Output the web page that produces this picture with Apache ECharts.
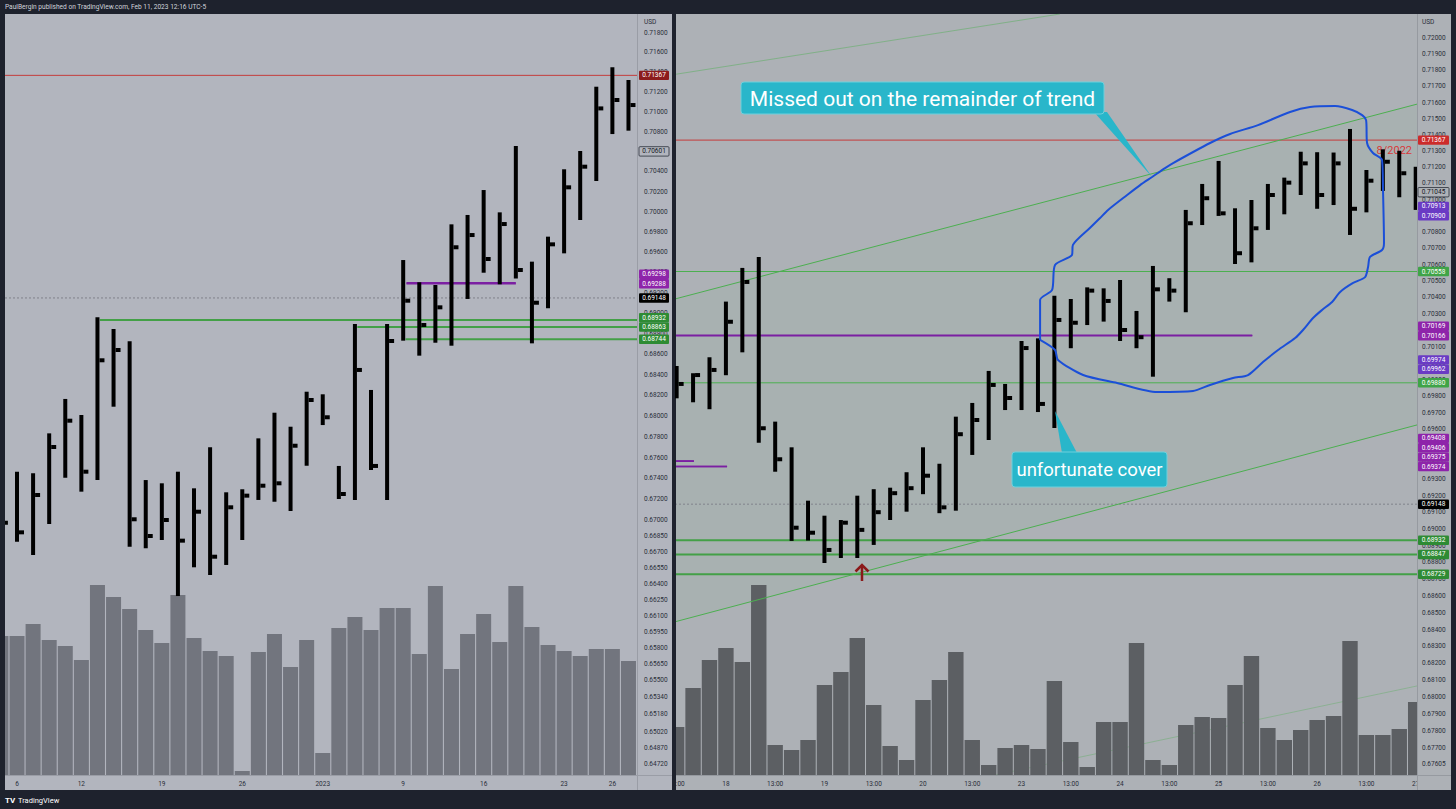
<!DOCTYPE html>
<html>
<head>
<meta charset="utf-8">
<script src="https://cdn.jsdelivr.net/npm/echarts@6/dist/echarts.min.js"></script>
<style>
  html, body { margin: 0; padding: 0; background: #1e222d; }
  #chart { width: 1456px; height: 809px; }
</style>
</head>
<body>
<div id="chart"></div>
<script>
// ---- left pane: daily bars, Dec 5 2022 .. Jan 27 2023 ----
const leftHigh = [0.67146, 0.67464, 0.67449, 0.67832, 0.68164, 0.68009, 0.68958, 0.68844, 0.68724, 0.67384,
  0.67353, 0.67464, 0.67305, 0.67698, 0.67267, 0.67296, 0.67784, 0.68031, 0.67896, 0.68234,
  0.68209, 0.67519, 0.68893, 0.68251, 0.68893, 0.69521, 0.69302, 0.69275, 0.69874, 0.69967,
  0.70215, 0.69993, 0.70655, 0.69505, 0.69752, 0.70422, 0.70605, 0.71252, 0.71449, 0.71320]
const leftLow = [0.66813, 0.66797, 0.66671, 0.66965, 0.67406, 0.67273, 0.67384, 0.68089, 0.66750, 0.66735,
  0.66813, 0.66284, 0.66555, 0.66482, 0.66577, 0.66813, 0.67194, 0.67177, 0.67089, 0.67521,
  0.67912, 0.67203, 0.67194, 0.67480, 0.67194, 0.68730, 0.68584, 0.68710, 0.68681, 0.69138,
  0.69396, 0.69282, 0.69339, 0.68704, 0.69047, 0.69587, 0.69917, 0.70305, 0.70775, 0.70809]
const leftClose = [0.66977, 0.66886, 0.67241, 0.67701, 0.67954, 0.67464, 0.68539, 0.68639, 0.67010, 0.66851,
  0.67003, 0.66807, 0.67082, 0.66655, 0.67124, 0.67235, 0.67330, 0.67353, 0.67713, 0.68154,
  0.67987, 0.67251, 0.68445, 0.67519, 0.68727, 0.69121, 0.68883, 0.69056, 0.69647, 0.69768,
  0.69531, 0.69877, 0.69423, 0.69101, 0.69676, 0.70242, 0.70448, 0.71033, 0.71118, 0.71067]
const leftVolume = [139, 139, 151, 135, 129, 115, 190, 178, 166, 145, 132, 180, 137, 124, 119, 4, 123, 141, 108, 135,
  22, 147, 158, 145, 167, 167, 121, 189, 106, 141, 161, 133, 189, 148, 130, 124, 119, 126, 126, 114]
const leftDayIndex = [1, 5, 10, 15, 20, 25, 30, 35, 38]
const leftDayLabels = ['6', '12', '19', '26', '2023', '9', '16', '23', '26']
const leftPriceTicks = [0.718, 0.716, 0.714, 0.712, 0.710, 0.708, 0.706, 0.704, 0.702, 0.700, 0.698, 0.696,
  0.694, 0.692, 0.690, 0.688, 0.686, 0.684, 0.682, 0.680, 0.678, 0.676, 0.674, 0.672, 0.670,
  0.6685, 0.6670, 0.6655, 0.6640, 0.6625, 0.6610, 0.6595, 0.6580, 0.6565, 0.6550,
  0.6534, 0.6518, 0.6502, 0.6487, 0.6472]

// levels drawn on the left pane
const leftRedLevel = 0.71367
const leftGrayLevel = 0.69148
const leftGreenLevels = [0.68932, 0.68863, 0.68744]
const leftGreenFrom = [6.15, 22.15, 25.15]
const leftPurpleLevels = [0.69298, 0.69288]
const leftPurpleSpan = [25.2, 32.0]

// ---- right pane: 4h bars, Jan 17 13:00 .. Jan 27 ----
const rightHigh = [0.69982, 0.69938, 0.70035, 0.70374, 0.70580, 0.70647, 0.69645, 0.69490, 0.69169, 0.69079,
  0.69053, 0.69199, 0.69238, 0.69247, 0.69340, 0.69490, 0.69391, 0.69675, 0.69758, 0.69952,
  0.69873, 0.70134, 0.70150, 0.70410, 0.70390, 0.70461, 0.70455, 0.70506, 0.70317, 0.70592,
  0.70517, 0.70936, 0.71096, 0.71238, 0.70946, 0.70997, 0.71096, 0.71135, 0.71295, 0.71292,
  0.71290, 0.71436, 0.71182, 0.71310, 0.71301, 0.71202]
const rightLow = [0.69786, 0.69762, 0.69720, 0.69926, 0.70065, 0.69518, 0.69343, 0.68928, 0.68930, 0.68796,
  0.68826, 0.68826, 0.68904, 0.69053, 0.69103, 0.69208, 0.69094, 0.69109, 0.69444, 0.69534,
  0.69715, 0.69715, 0.69703, 0.69607, 0.70090, 0.70231, 0.70252, 0.70134, 0.70090, 0.69917,
  0.70374, 0.70309, 0.70843, 0.70899, 0.70604, 0.70614, 0.70813, 0.70909, 0.71028, 0.70943,
  0.70966, 0.70782, 0.70921, 0.71053, 0.71014, 0.70936]
const rightClose = [0.69873, 0.69927, 0.69958, 0.70251, 0.70494, 0.69605, 0.69418, 0.69007, 0.68977, 0.68874,
  0.69037, 0.68994, 0.69100, 0.69214, 0.69244, 0.69319, 0.69129, 0.69569, 0.69655, 0.69867,
  0.69788, 0.70091, 0.69752, 0.70262, 0.70245, 0.70441, 0.70378, 0.70201, 0.70157, 0.70449,
  0.70441, 0.70854, 0.71008, 0.70915, 0.70670, 0.70823, 0.71028, 0.71104, 0.71223, 0.71028,
  0.71223, 0.70943, 0.71116, 0.71233, 0.71162, 0.71045]
const rightVolume = [48, 87, 115, 127, 113, 190, 30, 25, 35, 90, 103, 137, 70, 29, 15, 75, 95, 123, 35, 10,
  27, 30, 26, 94, 33, 8, 53, 53, 132, 15, 10, 50, 58, 57, 90, 119, 47, 35, 45, 55,
  59, 134, 40, 40, 46, 73]
const rightTimeIndex = [0, 3, 6, 9, 12, 15, 18, 21, 24, 27, 30, 33, 36, 39, 42, 45]
const rightTimeLabels = ['13:00', '18', '13:00', '19', '13:00', '20', '13:00', '23', '13:00', '24',
  '13:00', '25', '13:00', '26', '13:00', '27']
const rightPriceTicks = [0.720, 0.719, 0.718, 0.717, 0.716, 0.715, 0.714, 0.713, 0.712, 0.711, 0.710,
  0.709, 0.708, 0.707, 0.706, 0.705, 0.704, 0.703, 0.702, 0.701, 0.700, 0.699, 0.698, 0.697,
  0.696, 0.695, 0.694, 0.693, 0.692, 0.691, 0.690, 0.689, 0.688, 0.687, 0.686, 0.685, 0.684,
  0.683, 0.682, 0.681, 0.680, 0.679, 0.678, 0.677, 0.67605]

// levels and drawings on the right pane
const rightRedLevel = 0.71367
const rightGrayLevel = 0.69148
const rightGreenThin = [0.70558, 0.69880]
const rightGreenThick = [0.68932, 0.68847, 0.68729]
const rightPurpleLevels = [0.70169, 0.70166]
const rightPurpleEnd = 35.05
const rightShortPurple = [0.69408, 0.69406, 0.69375, 0.69374]
const rightShortPurpleEnd = [1.05, 1.05, 3.07, 3.07]
const channelUpper = [[-0.1, 0.70390], [45.08, 0.71590]]
const channelLower = [[-0.1, 0.68446], [45.08, 0.69625]]
const faintTop = [[-0.1, 0.71775], [23.34, 0.72152]]
const faintBottom = [[19.1, 0.67536], [45.08, 0.68066]]
const loopPath = [[22.13, 0.70140], [22.13, 0.70384], [22.86, 0.70445], [23.04, 0.70598], [24.07, 0.70659],
  [24.13, 0.70721], [25.16, 0.70825], [25.78, 0.70886], [26.27, 0.70936], [27.43, 0.71028],
  [28.22, 0.71089], [28.95, 0.71139], [29.74, 0.71194], [30.23, 0.71225], [32.48, 0.71349],
  [33.70, 0.71405], [35.40, 0.71460], [37.35, 0.71541], [38.57, 0.71572], [40.09, 0.71578],
  [41.13, 0.71554], [41.74, 0.71522], [41.98, 0.71491], [42.04, 0.71349], [42.40, 0.71287],
  [42.95, 0.71244], [43.01, 0.71059], [43.07, 0.70733], [42.95, 0.70690], [42.22, 0.70647],
  [42.10, 0.70586], [41.92, 0.70524], [41.19, 0.70488], [40.40, 0.70433], [39.91, 0.70372],
  [39.30, 0.70323], [38.75, 0.70274], [38.14, 0.70201], [37.66, 0.70152], [36.62, 0.70079],
  [35.70, 0.70006], [34.79, 0.69927], [33.88, 0.69909], [32.48, 0.69867], [31.44, 0.69830],
  [29.25, 0.69824], [26.82, 0.69879], [24.75, 0.69927], [23.22, 0.70019], [23.04, 0.70079],
  [22.13, 0.70140]]

// price tags on the axes
const leftTags = [
  { v: 0.71367, fill: '#8c1c1c', text: '#ffffff' },
  { v: 0.70601, fill: '#b2b5be', text: '#131722', stroke: '#2a2e39' },
  { v: 0.69298, fill: '#8e24aa', text: '#ffffff' },
  { v: 0.69288, fill: '#8e24aa', text: '#ffffff' },
  { v: 0.69148, fill: '#000000', text: '#ffffff' },
  { v: 0.68932, fill: '#2e8b34', text: '#ffffff' },
  { v: 0.68863, fill: '#2e8b34', text: '#ffffff' },
  { v: 0.68744, fill: '#2e8b34', text: '#ffffff' }
]
const rightTags = [
  { v: 0.71367, fill: '#cc2b2b', text: '#ffffff' },
  { v: 0.71045, fill: '#aeb2b7', text: '#131722', stroke: '#2a2e39' },
  { v: 0.70913, fill: '#6a3bc4', text: '#ffffff' },
  { v: 0.70900, fill: '#6a3bc4', text: '#ffffff' },
  { v: 0.70558, fill: '#3fa447', text: '#ffffff' },
  { v: 0.70169, fill: '#8e24aa', text: '#ffffff' },
  { v: 0.70166, fill: '#8e24aa', text: '#ffffff' },
  { v: 0.69974, fill: '#6a3bc4', text: '#ffffff' },
  { v: 0.69962, fill: '#6a3bc4', text: '#ffffff' },
  { v: 0.69880, fill: '#3fa447', text: '#ffffff' },
  { v: 0.69408, fill: '#8e24aa', text: '#ffffff' },
  { v: 0.69406, fill: '#8e24aa', text: '#ffffff' },
  { v: 0.69375, fill: '#8e24aa', text: '#ffffff' },
  { v: 0.69374, fill: '#8e24aa', text: '#ffffff' },
  { v: 0.69148, fill: '#000000', text: '#ffffff' },
  { v: 0.68932, fill: '#2e8b34', text: '#ffffff' },
  { v: 0.68847, fill: '#2e8b34', text: '#ffffff' },
  { v: 0.68729, fill: '#2e8b34', text: '#ffffff' }
]

const PANEL = '#b2b5be'
const PANEL_R = '#adb1b6'
const LABEL = '#2a2e39'
const FONT = 'Roboto'

const chart = echarts.init(document.getElementById('chart'), null, { renderer: 'svg' })

function ohlcSeries(xi, yi, high, low, close) {
  return {
    type: 'custom', xAxisIndex: xi, yAxisIndex: yi, z: 5, clip: true,
    data: high.map((h, i) => [i, h, low[i], close[i]]),
    renderItem(params, api) {
      const x = api.value(0)
      const hi = api.coord([x, api.value(1)])
      const lo = api.coord([x, api.value(2)])
      const cl = api.coord([x, api.value(3)])
      return {
        type: 'group',
        children: [
          { type: 'rect', shape: { x: hi[0] - 2, y: hi[1], width: 4, height: lo[1] - hi[1] }, style: { fill: '#000' } },
          { type: 'rect', shape: { x: hi[0] + 2, y: cl[1] - 2, width: 5, height: 4 }, style: { fill: '#000' } }
        ]
      }
    }
  }
}

function volumeSeries(xi, yi, vols, width, color) {
  return {
    type: 'custom', xAxisIndex: xi, yAxisIndex: yi, z: 2, clip: true,
    data: vols.map((v, i) => [i, v]),
    renderItem(params, api) {
      const top = api.coord([api.value(0), api.value(1)])
      const base = api.coord([api.value(0), 0])
      return { type: 'rect', shape: { x: top[0] - width / 2, y: top[1], width: width, height: base[1] - top[1] }, style: { fill: color } }
    }
  }
}

function levelLine(xi, yi, price, x1, x2, color, width, dashed) {
  return {
    type: 'line', xAxisIndex: xi, yAxisIndex: yi, z: 3, silent: true, symbol: 'none',
    data: [[x1, price], [x2, price]],
    lineStyle: { color: color, width: width, type: dashed ? [2, 2] : 'solid' }
  }
}

function pathLine(xi, yi, points, color, width, z) {
  return {
    type: 'line', xAxisIndex: xi, yAxisIndex: yi, z: z || 3, silent: true, symbol: 'none',
    data: points, lineStyle: { color: color, width: width }
  }
}

const leftDayMap = {}
leftDayIndex.forEach((k, i) => { leftDayMap[k] = leftDayLabels[i] })
const rightTimeMap = {}
rightTimeIndex.forEach((k, i) => { rightTimeMap[k] = rightTimeLabels[i] })

const LX = [0.254, 39.53]
const RX = [-0.1, 45.08]

const series = [
  volumeSeries(0, 1, leftVolume, 15, '#72757e'),
  volumeSeries(1, 3, rightVolume, 15.4, '#5c5f63'),
  {
    type: 'custom', xAxisIndex: 1, yAxisIndex: 2, z: 1, clip: true, silent: true,
    data: [[0, 0]],
    renderItem(params, api) {
      const pts = [channelUpper[0], channelUpper[1], channelLower[1], channelLower[0]].map(p => api.coord(p))
      return { type: 'polygon', shape: { points: pts }, style: { fill: 'rgba(76,175,80,0.045)' } }
    }
  },
  levelLine(0, 0, leftRedLevel, LX[0], LX[1], '#c43c3c', 1),
  levelLine(0, 0, leftGrayLevel, LX[0], LX[1], '#80838c', 1, true),
  ...leftGreenLevels.map((p, i) => levelLine(0, 0, p, leftGreenFrom[i], LX[1], '#43a047', 2)),
  ...leftPurpleLevels.map(p => levelLine(0, 0, p, leftPurpleSpan[0], leftPurpleSpan[1], '#7b1fa2', 1.5)),
  levelLine(1, 2, rightRedLevel, RX[0], RX[1], '#c43c3c', 1),
  levelLine(1, 2, rightGrayLevel, RX[0], RX[1], '#80838c', 1, true),
  ...rightGreenThin.map(p => levelLine(1, 2, p, RX[0], RX[1], '#4caf50', 1)),
  ...rightGreenThick.map(p => levelLine(1, 2, p, RX[0], RX[1], '#43a047', 2)),
  ...rightPurpleLevels.map(p => levelLine(1, 2, p, RX[0], rightPurpleEnd, '#7b1fa2', 1.5)),
  ...rightShortPurple.map((p, i) => levelLine(1, 2, p, RX[0], rightShortPurpleEnd[i], '#7b1fa2', 1.5)),
  pathLine(1, 2, channelUpper, '#4caf50', 1),
  pathLine(1, 2, channelLower, '#4caf50', 1),
  pathLine(1, 2, faintTop, 'rgba(76,175,80,0.45)', 1),
  pathLine(1, 2, faintBottom, 'rgba(76,175,80,0.35)', 1, 1),
  Object.assign(pathLine(1, 2, loopPath, '#1b4fd8', 2, 6), { smooth: 0.25 }),
  ohlcSeries(0, 0, leftHigh, leftLow, leftClose),
  ohlcSeries(1, 2, rightHigh, rightLow, rightClose)
]

function priceAxis(grid, min, max, ticks, margin) {
  return {
    type: 'log', gridIndex: grid, position: 'right', min: min, max: max, z: 5,
    axisLine: { show: false }, axisTick: { show: false }, splitLine: { show: false },
    axisLabel: {
      customValues: ticks, formatter: v => Number(v).toFixed(5),
      color: LABEL, fontSize: 6.5, fontFamily: FONT, margin: margin
    }
  }
}

function timeAxis(grid, range, values, map) {
  return {
    type: 'value', gridIndex: grid, min: range[0], max: range[1], z: 1,
    axisLine: { show: false }, axisTick: { show: false }, splitLine: { show: false },
    axisLabel: {
      customValues: values, formatter: v => map[Math.round(v)] || '',
      color: LABEL, fontSize: 6.5, fontFamily: FONT, margin: 5
    }
  }
}

chart.setOption({
  animation: false,
  backgroundColor: '#1e222d',
  textStyle: { fontFamily: FONT },
  grid: [
    { left: 5, top: 14, width: 632, height: 761 },
    { left: 675, top: 14, width: 742, height: 761 }
  ],
  xAxis: [timeAxis(0, LX, leftDayIndex, leftDayMap), timeAxis(1, RX, rightTimeIndex, rightTimeMap)],
  yAxis: [
    priceAxis(0, 0.64622, 0.71991, leftPriceTicks, 7),
    { type: 'value', gridIndex: 0, min: 0, max: 761, show: false },
    priceAxis(1, 0.675423, 0.72152, rightPriceTicks, 5),
    { type: 'value', gridIndex: 1, min: 0, max: 761, show: false }
  ],
  series: series
})

// ---- tags and static drawing ----
function tagGraphics(tags, yAxisIndex, x0, width) {
  const h = 9.4
  const items = tags.map(t => Object.assign({}, t, { y: chart.convertToPixel({ yAxisIndex: yAxisIndex }, t.v) }))
  items.sort((a, b) => b.y - a.y)
  for (let i = 1; i < items.length; i++) items[i].y = Math.min(items[i].y, items[i - 1].y - h)
  const out = []
  items.forEach(t => {
    out.push({ type: 'rect', z: 8, shape: { x: x0, y: t.y - h / 2, width: width, height: h, r: 1 },
      style: { fill: t.fill, stroke: t.stroke || null, lineWidth: t.stroke ? 0.8 : 0 } })
    out.push({ type: 'text', z: 9, style: { text: t.v.toFixed(5), x: x0 + width / 2, y: t.y, align: 'center',
      verticalAlign: 'middle', fill: t.text, font: '6.5px ' + FONT } })
  })
  return out
}

const graphics = [
  // panel backgrounds
  { type: 'rect', z: -10, shape: { x: 5, y: 14, width: 667, height: 776 }, style: { fill: PANEL } },
  { type: 'rect', z: -10, shape: { x: 676, y: 14, width: 775, height: 776 }, style: { fill: PANEL_R } },
  // axis columns, drawn over overflowing labels
  { type: 'rect', z: 4, shape: { x: 637, y: 14, width: 35, height: 776 }, style: { fill: PANEL } },
  { type: 'rect', z: 4, shape: { x: 1417, y: 14, width: 34, height: 776 }, style: { fill: PANEL_R } },
  { type: 'rect', z: 4, shape: { x: 672, y: 14, width: 4, height: 776 }, style: { fill: '#1e222d' } },
  { type: 'rect', z: 4, shape: { x: 0, y: 14, width: 5, height: 776 }, style: { fill: '#1e222d' } },
  // separators
  { type: 'line', z: 4, shape: { x1: 637.5, y1: 14, x2: 637.5, y2: 790 }, style: { stroke: '#9a9da6', lineWidth: 1 } },
  { type: 'line', z: 4, shape: { x1: 1417.5, y1: 14, x2: 1417.5, y2: 790 }, style: { stroke: '#969aa0', lineWidth: 1 } },
  { type: 'line', z: 4, shape: { x1: 5, y1: 775.5, x2: 672, y2: 775.5 }, style: { stroke: '#9a9da6', lineWidth: 1 } },
  { type: 'line', z: 4, shape: { x1: 676, y1: 775.5, x2: 1451, y2: 775.5 }, style: { stroke: '#969aa0', lineWidth: 1 } },
  // currency captions
  { type: 'text', z: 6, style: { text: 'USD', x: 644, y: 21.5, verticalAlign: 'middle', fill: LABEL, font: '6.5px ' + FONT } },
  { type: 'text', z: 6, style: { text: 'USD', x: 1422, y: 21.5, verticalAlign: 'middle', fill: LABEL, font: '6.5px ' + FONT } },
  // header / footer
  { type: 'text', z: 6, style: { text: 'PaulBergin published on TradingView.com, Feb 11, 2023 12:16 UTC-5', x: 5, y: 7,
    verticalAlign: 'middle', fill: '#d1d4dc', font: '6.6px ' + FONT } },
  { type: 'text', z: 6, style: { text: 'TV', x: 5, y: 800, verticalAlign: 'middle', fill: '#ffffff', font: 'bold 8px ' + FONT } },
  { type: 'text', z: 6, style: { text: 'TradingView', x: 18, y: 800, verticalAlign: 'middle', fill: '#ffffff', font: '7.5px ' + FONT } },
  // "8/2022" label under the bars
  { type: 'text', z: 1, style: { text: '8/2022', x: 1412, y: 150, align: 'right', verticalAlign: 'middle', fill: '#d93a3a', font: '11px ' + FONT } },
  // red arrow
  { type: 'polyline', z: 7, shape: { points: [[862, 581], [862, 565]] }, style: { stroke: '#8b1a1a', lineWidth: 2.5 } },
  { type: 'polyline', z: 7, shape: { points: [[855.5, 571.5], [862, 565], [868.5, 571.5]] }, style: { stroke: '#8b1a1a', lineWidth: 2.5, fill: null } },
  // callouts
  { type: 'polygon', z: 9, shape: { points: [[1094, 112], [1107, 112], [1152, 177]] }, style: { fill: '#29b6ca' } },
  { type: 'rect', z: 9, shape: { x: 741, y: 82, width: 363, height: 32, r: 3 }, style: { fill: '#29b6ca', stroke: '#6fd0dc', lineWidth: 1 } },
  { type: 'text', z: 10, style: { text: 'Missed out on the remainder of trend', x: 922.5, y: 98.5, align: 'center',
    verticalAlign: 'middle', fill: '#ffffff', font: '21px ' + FONT } },
  { type: 'polygon', z: 9, shape: { points: [[1062, 453], [1077, 453], [1055, 411]] }, style: { fill: '#29b6ca' } },
  { type: 'rect', z: 9, shape: { x: 1012, y: 452, width: 155, height: 35, r: 3 }, style: { fill: '#29b6ca', stroke: '#6fd0dc', lineWidth: 1 } },
  { type: 'text', z: 10, style: { text: 'unfortunate cover', x: 1089.5, y: 469.5, align: 'center',
    verticalAlign: 'middle', fill: '#ffffff', font: '18.5px ' + FONT } }
]

chart.setOption({
  graphic: { elements: graphics.concat(tagGraphics(leftTags, 0, 639, 30), tagGraphics(rightTags, 2, 1418, 31)) }
})
</script>
</body>
</html>
